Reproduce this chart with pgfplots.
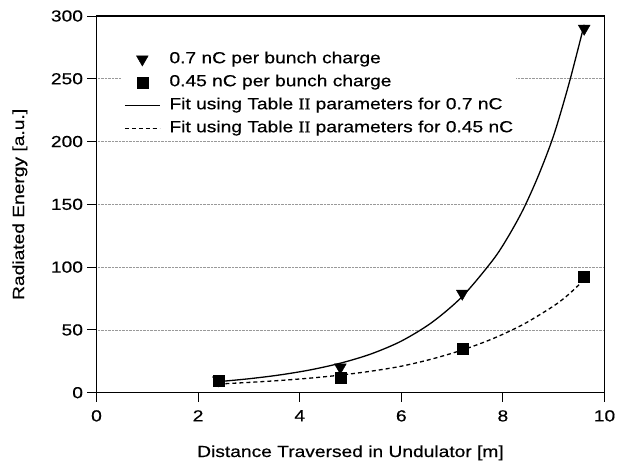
\documentclass[border=0pt]{standalone}
\usepackage{fontspec}
\setmainfont{Liberation Sans}[FakeStretch=1.2, FakeBold=0.4]
\newfontfamily\serifII{Liberation Serif}[FakeStretch=1.1, FakeBold=0.4]
\usepackage{pgfplots}
\pgfplotsset{compat=1.18}
\newcommand\f{\fontsize{16bp}{19bp}\selectfont}
\begin{document}
\begin{tikzpicture}
\useasboundingbox (-96.5bp,-71.3bp) rectangle (520.5bp,392.7bp);
\begin{axis}[
  scale only axis,
  width=508bp, height=376.7bp,
  xmin=0, xmax=10, ymin=0, ymax=300,
  xtick={0,2,4,6,8,10}, ytick={0,50,100,150,200,250,300},
  xtick pos=bottom, ytick pos=left,
  tick align=outside,
  major tick length=9bp,
  every tick/.style={black, line width=1bp},
  axis line style={black, line width=1.1bp},
  ymajorgrids,
  grid style={densely dotted, gray!80, line width=0.6bp},
  /pgf/number format/assume math mode=true,
  tick label style={font=\f},
  xticklabel style={yshift=-5bp},
  yticklabel style={xshift=-1bp},
  label style={font=\f},
  xlabel={Distance Traversed in Undulator [m]},
  ylabel={Radiated Energy [a.u.]},
  xlabel style={at={(axis description cs:0.5,-0.1707)}, anchor=base},
  ylabel style={at={(axis description cs:-0.1427,0.5)}, anchor=base},
  legend image code/.code={\draw[mark repeat=2,mark phase=2,#1] plot coordinates {(0bp,0bp) (17.5bp,0bp) (35bp,0bp)};},
  legend cell align=left,
  legend style={at={(axis description cs:0.0482,0.915)}, anchor=north west,
    draw=none, fill=white, inner sep=3bp, font=\f, row sep=7bp, column sep=9bp,
    nodes={inner sep=0pt, text height=12bp, text depth=4bp}},
]
\addplot[only marks, mark=triangle*, mark size=6.8bp, mark options={rotate=180, fill=black, draw=black}]
  coordinates {(2.4,10) (4.8,20.2) (7.2,79) (9.6,290)};
\addlegendentry{0.7 nC per bunch charge}
\addplot[only marks, mark=square*, mark size=5.5bp, mark options={fill=black, draw=black}]
  coordinates {(2.4,9.6) (4.8,12) (7.2,35.3) (9.6,92.4)};
\addlegendentry{0.45 nC per bunch charge}
\addplot[black, line width=1.3bp, smooth, no marks]
  coordinates {(2.4,8.8) (3.0,11.1) (3.6,14.1) (4.2,18.1) (4.8,23.5) (5.4,30.8) (6.0,41.1) (6.6,55.9) (7.2,76.6) (7.8,105.5) (8.1,124) (8.4,146) (8.7,173) (9.0,205) (9.3,246) (9.6,293)};
\addlegendentry{Fit using Table {\serifII II} parameters for 0.7 nC}
\addplot[black, line width=1.3bp, dash pattern=on 4bp off 3bp, smooth, no marks]
  coordinates {(2.4,6.9) (3.0,8.2) (3.6,9.7) (4.2,11.6) (4.8,14.0) (5.4,17.1) (6.0,21.1) (6.6,26.8) (7.2,34.0) (7.8,43.0) (8.4,54.4) (9.0,69.1) (9.3,78.5) (9.6,90)};
\addlegendentry{Fit using Table {\serifII II} parameters for 0.45 nC}
\end{axis}
\end{tikzpicture}
\end{document}
